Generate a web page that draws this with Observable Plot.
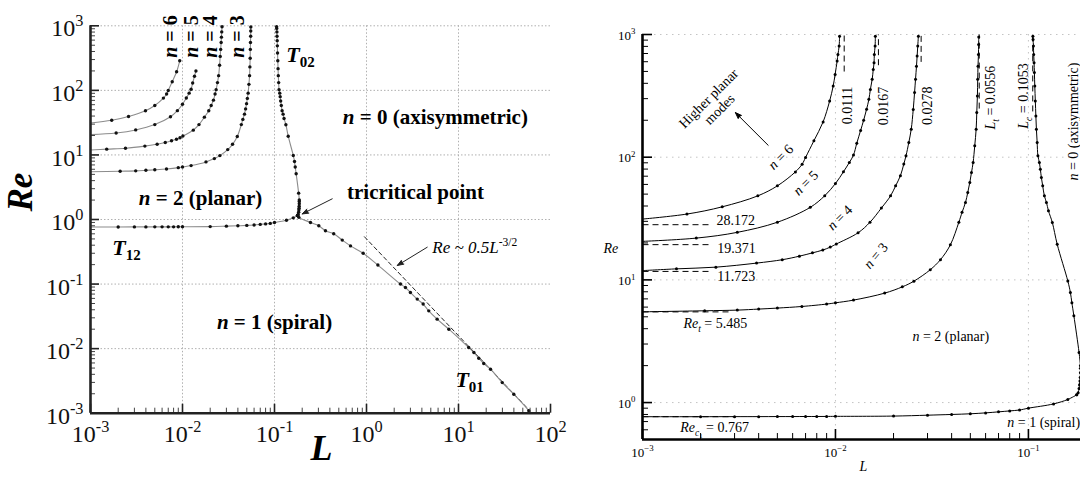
<!DOCTYPE html>
<html><head><meta charset="utf-8">
<script src="https://cdn.jsdelivr.net/npm/d3@7"></script>
<script src="https://cdn.jsdelivr.net/npm/@observablehq/plot@0.6"></script>
<style>
html,body{margin:0;padding:0;background:#fff;overflow:hidden;}
#wrap{position:relative;width:1080px;height:479px;overflow:hidden;background:#fff;}
#wrap svg{position:absolute;left:0;top:0;}
</style></head><body><div id="wrap"></div>
<script>
// ---------------- DATA ----------------
// T12 : n=1 / n=2 boundary
const L_T12  = [0.001,0.002,0.003,0.004,0.005,0.006,0.007,0.008,0.009,0.010,0.020,0.030,0.040,0.050,0.060,0.070,0.080,0.090,0.100,0.135,0.160,0.178];
const Re_T12 = [0.767,0.767,0.768,0.768,0.769,0.769,0.770,0.770,0.771,0.772,0.776,0.789,0.800,0.810,0.824,0.840,0.855,0.870,0.900,0.975,1.060,1.156];
// T02 : n=0 / n=2 boundary (from the tricritical point upward)
const L_T02  = [0.178,0.181,0.183,0.184,0.185,0.1855,0.186,0.186,0.186,0.183,0.172,0.168,0.165,0.160,0.141,0.133,0.127,0.124,0.121,0.1186,0.1167,0.1153,0.114,0.112,0.111,0.110,0.1093,0.1086,0.1079,0.1074,0.107,0.1065,0.1062,0.1057,0.1055];
const Re_T02 = [1.156,1.2,1.3,1.4,1.5,1.6,1.75,1.9,2.0,2.56,5.1,6.5,7.9,9.8,19.5,29.4,36.6,42.8,48.4,58.4,68.4,79.9,90.5,102.5,132,169,217,287,380,489,589,688,804,911,969];
// T01 : n=0 / n=1 boundary (left panel only)
const L_T01  = [0.178,0.184,0.246,0.303,0.358,0.44,0.545,0.67,0.92,1.33,2.34,2.65,3.0,3.56,4.13,4.75,5.86,7.85,12.9,14.7,16.6,18.8,22.3,29.9,39.9,58.1,60.5];
const Re_T01 = [1.156,1.08,0.90,0.80,0.67,0.60,0.48,0.39,0.30,0.197,0.10,0.0886,0.074,0.0585,0.049,0.0385,0.0286,0.020,0.0104,0.0087,0.0071,0.00588,0.0048,0.00298,0.00197,0.00109,0.001];
// higher planar modes
const L_n3  = [0.001,0.0021,0.0031,0.004,0.005,0.0067,0.009,0.010,0.0124,0.018,0.0222,0.0255,0.031,0.035,0.0394,0.0436,0.0453,0.0472,0.0485,0.0497,0.0507,0.0517,0.0527,0.0536,0.0540,0.0544,0.0546,0.0548,0.0551,0.0552,0.0553];
const Re_n3 = [5.49,5.60,5.67,5.78,5.89,6.07,6.35,6.50,6.84,7.80,8.77,9.76,12.1,14.6,19.3,29.5,35.5,42.8,51.6,62.3,75.1,90.5,124,169,231,315,431,552,688,829,956];
const L_n4  = [0.001,0.0015,0.0024,0.0039,0.0053,0.0065,0.0076,0.0086,0.0094,0.0101,0.0131,0.0151,0.0173,0.0193,0.0205,0.0217,0.0226,0.0232,0.0240,0.0247,0.0253,0.0257,0.0260,0.0263,0.0265,0.0267,0.0269];
const Re_n4 = [11.9,12.3,12.7,13.7,14.6,15.6,16.6,17.5,18.5,19.6,24.2,29.5,38.5,48.4,58.4,70.5,87.8,102.5,132,169,245,336,431,552,667,804,969];
const L_n5  = [0.001,0.0019,0.0031,0.005,0.0074,0.0088,0.0100,0.0110,0.0118,0.0124,0.0129,0.0135,0.0140,0.0145,0.0149,0.01517,0.0155,0.0157,0.01585,0.0159,0.01605,0.0161];
const Re_n5 = [20.6,21.9,24.4,29.5,39.0,48.5,61,76,90.5,104,130,165,200,246,296,357,431,519,589,688,804,969];
const L_n6  = [0.001,0.0017,0.00259,0.00396,0.0050,0.0062,0.00672,0.0070,0.00773,0.00863,0.00933,0.00973,0.00996,0.0102,0.0103,0.01045,0.0105];
const Re_n6 = [31.3,34.4,39.4,48.4,58.4,75.9,87.7,99.5,136,194,287,380,473,607,688,804,969];
// asymptote Re ~ 0.5 L^-3/2 (end points)
const L_asym  = [0.95, 60];
const Re_asym = [0.54, 0.00108];
// right panel dashed reference values
const hDashRe  = [28.172, 19.371, 11.723, 5.485, 0.767];
const hDashEnd = [0.0022, 0.00225, 0.0023, 0.00286, 0.003];
const vDashL   = [0.0111, 0.0167, 0.0278, 0.0556, 0.1053];
const vDashLow = [499, 562, 598, 249, 236];
// ticks
const leftXTicks = [1e-3,1e-2,1e-1,1,10,100];
const leftXTickLabels = ["10^{-3}","10^{-2}","10^{-1}","10^{0}","10^{1}","10^{2}"];
const leftYTicks = [1e-3,1e-2,1e-1,1,10,100,1000];
const leftYTickLabels = ["10^{-3}","10^{-2}","10^{-1}","10^{0}","10^{1}","10^{2}","10^{3}"];
const rightXTicks = [1e-3,1e-2,1e-1];
const rightXTickLabels = ["10^{−3}","10^{−2}","10^{−1}"];
const rightYTicks = [1,10,100,1000];
const rightYTickLabels = ["10^{0}","10^{1}","10^{2}","10^{3}"];

// annotations (anchored in data units)
const leftRegionLabels = [
  {t:"*n* = 0 (axisymmetric)", L:5.6, Re:38},
  {t:"*n* = 2 (planar)", L:0.0157, Re:2.1},
  {t:"*n* = 1 (spiral)", L:0.1, Re:0.026},
  {t:"tricritical point", L:3.41, Re:2.62}
];
const leftTLabels = [
  {t:"*T*_{02}", L:0.192, Re:359},
  {t:"*T*_{12}", L:0.00246, Re:0.368},
  {t:"*T*_{01}", L:13.2, Re:0.00333}
];
const leftModeLabels = [
  {t:"*n* = 6", L:0.00741, Re:683},
  {t:"*n* = 5", L:0.0127, Re:683},
  {t:"*n* = 4", L:0.0202, Re:683},
  {t:"*n* = 3", L:0.0393, Re:683}
];
const leftAsymLabel = [{t:"*Re ~ 0.5L*^{-3/2}", L:5.2, Re:0.368}];
const leftArrows = [
  {L1:0.424, Re1:2.09, L2:0.2, Re2:1.22},
  {L1:4.57, Re1:0.372, L2:2.16, Re2:0.194}
];
const rightValueLabels = [
  {t:"28.172", L:0.00242, Re:30.5},
  {t:"19.371", L:0.00244, Re:18.1},
  {t:"11.723", L:0.00244, Re:10.66},
  {t:"*Re*_{*t*} = 5.485", L:0.00163, Re:4.39},
  {t:"*Re*_{*c*_{1}} = 0.767", L:0.00157, Re:0.623}
];
const rightVertLabels = [
  {t:"0.0111", L:0.01156, Re:264},
  {t:"0.0167", L:0.0178, Re:261},
  {t:"0.0278", L:0.0299, Re:263},
  {t:"*L*_{*t*} = 0.0556", L:0.0637, Re:306},
  {t:"*L*_{*c*} = 0.1053", L:0.0948, Re:315},
  {t:"*n* = 0 (axisymmetric)", L:0.1714, Re:195}
];
const rightModeLabels = [
  {t:"*n* = 6", L:0.00519, Re:100.7, rot:-45},
  {t:"*n* = 5", L:0.0070, Re:62, rot:-45},
  {t:"*n* = 4", L:0.0105, Re:32.3, rot:-45},
  {t:"*n* = 3", L:0.01614, Re:15.8, rot:-50},
  {t:"Higher planar\nmodes", L:0.00234, Re:273, rot:-45}
];
const rightRegionLabels = [
  {t:"*n* = 2 (planar)", L:0.0396, Re:3.45},
  {t:"*n* = 1 (spiral)", L:0.12, Re:0.689}
];
const rightArrows = [{L1:0.00448, Re1:125, L2:0.00303, Re2:231}];

// ---------------- helpers ----------------
const series = (name, Ls, Res) => Ls.map((L, i) => ({curve: name, L, Re: Res[i]}));
function minors(lo, hi) {
  const out = [];
  for (let e = Math.floor(Math.log10(lo)); e < Math.ceil(Math.log10(hi)); e++) {
    const d = Math.pow(10, e);
    for (let k = 2; k <= 9; k++) { const v = k * d; if (v >= lo * 0.999 && v <= hi * 1.001) out.push(v); }
  }
  return out;
}
function parseRich(s) {
  const out = [];
  function rec(str, shift, scale) {
    let italic = false, buf = "", i = 0;
    const flush = () => { if (buf) { out.push({t: buf, it: italic, shift, scale}); buf = ""; } };
    while (i < str.length) {
      const c = str[i];
      if (c === "*") { flush(); italic = !italic; i++; continue; }
      if ((c === "^" || c === "_") && str[i + 1] === "{") {
        flush();
        let depth = 0, j = i + 1;
        for (; j < str.length; j++) {
          if (str[j] === "{") depth++;
          else if (str[j] === "}") { depth--; if (depth === 0) break; }
        }
        rec(str.slice(i + 2, j), shift + (c === "_" ? 0.25 : -0.42) * scale, scale * 0.68);
        i = j + 1; continue;
      }
      buf += c; i++;
    }
    flush();
  }
  rec(s, 0, 1);
  return out;
}
function applyRich(svg) {
  const NS = "http://www.w3.org/2000/svg";
  svg.querySelectorAll("text").forEach(t => {
    if (t.querySelector("tspan")) return;
    const s = t.textContent;
    if (!/[*^_]/.test(s)) return;
    const fs = parseFloat(getComputedStyle(t).fontSize) || 13;
    const segs = parseRich(s);
    while (t.firstChild) t.removeChild(t.firstChild);
    let cur = 0;
    segs.forEach(g => {
      const ts = document.createElementNS(NS, "tspan");
      const target = g.shift * fs;
      if (Math.abs(target - cur) > 0.01) ts.setAttribute("dy", (target - cur).toFixed(2));
      cur = target;
      ts.setAttribute("font-size", (g.scale * fs).toFixed(2));
      if (g.it) ts.setAttribute("font-style", "italic");
      ts.textContent = g.t;
      t.appendChild(ts);
    });
  });
}

const W = 1080, H = 479;
const FONT = "'Liberation Serif','Times New Roman',serif";
const svgStyle = {fontFamily: FONT, background: "transparent", maxWidth: "none", color: "#000", overflow: "visible"};

// ---------------- LEFT PANEL ----------------
const LF = {left: 90, right: 550, top: 25.3, bottom: 412.7};
const lpH = LF.bottom - LF.top, lpW = LF.right - LF.left;
const leftCurves = [
  ...series("T12", L_T12, Re_T12),
  ...series("T02", L_T02, Re_T02),
  ...series("T01", L_T01, Re_T01),
  ...series("n3", L_n3, Re_n3),
  ...series("n4", L_n4, Re_n4),
  ...series("n5", L_n5, Re_n5).filter(d => d.Re <= 210),
  ...series("n6", L_n6, Re_n6).filter(d => d.Re <= 290)
];
const asym = series("asym", L_asym, Re_asym);
const gridStyleL = {stroke: "#b0b0b0", strokeWidth: 1, strokeDasharray: "1.5,2"};

const left = Plot.plot({
  width: W, height: H,
  marginLeft: LF.left, marginRight: W - LF.right, marginTop: LF.top, marginBottom: H - LF.bottom,
  x: {type: "log", domain: [1e-3, 1e2], axis: null},
  y: {type: "log", domain: [1e-3, 1e3], axis: null},
  style: svgStyle,
  marks: [
    Plot.ruleX([1e-2, 1e-1, 1, 10], gridStyleL),
    Plot.ruleY([1e-2, 1e-1, 1, 10, 100, 1000], gridStyleL),
    Plot.line(asym, {x: "L", y: "Re", stroke: "#222", strokeWidth: 1, strokeDasharray: "4,3"}),
    Plot.line(leftCurves, {x: "L", y: "Re", z: "curve", stroke: "#8c8c8c", strokeWidth: 1.1, curve: "catmull-rom"}),
    Plot.dot(leftCurves.filter(d => d.L > 0.0011 && d.Re > 0.00105), {x: "L", y: "Re", r: 1.7, fill: "#111"}),
    Plot.tickX(leftXTicks, {x: d => d, insetTop: lpH - 9, stroke: "#222", strokeWidth: 1.6}),
    Plot.tickX(minors(1e-3, 1e2), {x: d => d, insetTop: lpH - 5, stroke: "#444", strokeWidth: 1}),
    Plot.tickY(leftYTicks, {y: d => d, insetRight: lpW - 9, stroke: "#222", strokeWidth: 1.6}),
    Plot.tickY(minors(1e-3, 1e3), {y: d => d, insetRight: lpW - 5, stroke: "#444", strokeWidth: 1}),
    Plot.ruleX([1e-3], {stroke: "#222", strokeWidth: 2.6}),
    Plot.ruleY([1e-3], {stroke: "#222", strokeWidth: 2.6}),
    Plot.text(leftXTicks, {x: d => d, text: (d, i) => leftXTickLabels[i], frameAnchor: "bottom", lineAnchor: "top", dy: 12, fontSize: 24, fill: "#111"}),
    Plot.text(leftYTicks, {y: d => d, text: (d, i) => leftYTickLabels[i], frameAnchor: "left", textAnchor: "end", dx: -7, dy: 3, fontSize: 24, fill: "#111"}),
    Plot.text(["Re"], {frameAnchor: "left", dx: -70, dy: -8, rotate: -90, fontSize: 35, fontWeight: "bold", fontStyle: "italic"}),
    Plot.text(["L"], {frameAnchor: "bottom", dx: 1, dy: 47, fontSize: 36, fontWeight: "bold", fontStyle: "italic"}),
    Plot.text(leftRegionLabels, {x: "L", y: "Re", text: "t", fontSize: 21, fontWeight: "bold"}),
    Plot.text(leftTLabels, {x: "L", y: "Re", text: "t", fontSize: 22, fontWeight: "bold"}),
    Plot.text(leftModeLabels, {x: "L", y: "Re", text: "t", rotate: -90, fontSize: 20, fontWeight: "bold"}),
    Plot.text(leftAsymLabel, {x: "L", y: "Re", text: "t", textAnchor: "start", fontSize: 17}),
    Plot.arrow(leftArrows, {x1: "L1", y1: "Re1", x2: "L2", y2: "Re2", stroke: "#222", fill: "#222", strokeWidth: 1, headLength: 10, headAngle: 40})
  ]
});

// ---------------- RIGHT PANEL ----------------
const RW = 1090;
const RF = {left: 642, right: 1086, top: 34, bottom: 439};
const rpH = RF.bottom - RF.top, rpW = RF.right - RF.left;
const rightCurves = [
  ...series("T12", L_T12, Re_T12),
  ...series("T02", L_T02, Re_T02),
  ...series("n3", L_n3, Re_n3),
  ...series("n4", L_n4, Re_n4),
  ...series("n5", L_n5, Re_n5),
  ...series("n6", L_n6, Re_n6)
];
const hDash = hDashRe.map((Re, i) => ({Re, L2: hDashEnd[i]}));
const vDash = vDashL.map((L, i) => ({L, ReLow: vDashLow[i]}));
const gridStyleR = {stroke: "#c4c4c4", strokeWidth: 1, strokeDasharray: "1.5,4.5"};

const right = Plot.plot({
  width: RW, height: H,
  marginLeft: RF.left, marginRight: RW - RF.right, marginTop: RF.top, marginBottom: H - RF.bottom,
  x: {type: "log", domain: [1e-3, 0.2], axis: null},
  y: {type: "log", domain: [0.5, 1000], axis: null},
  style: svgStyle,
  marks: [
    Plot.ruleX([1e-2, 1e-1], gridStyleR),
    Plot.ruleY([1, 10, 100, 1000], gridStyleR),
    Plot.link(hDash, {x1: d => 1e-3, x2: "L2", y1: "Re", y2: "Re", stroke: "#000", strokeWidth: 1, strokeDasharray: "6,4"}),
    Plot.link(vDash, {x1: "L", x2: "L", y1: "ReLow", y2: d => 1000, stroke: "#000", strokeWidth: 1, strokeDasharray: "6,4"}),
    Plot.line(rightCurves, {x: "L", y: "Re", z: "curve", stroke: "#000", strokeWidth: 1, curve: "catmull-rom"}),
    Plot.dot(rightCurves.filter(d => d.L > 0.0011), {x: "L", y: "Re", r: 1.5, fill: "#000"}),
    Plot.tickX(rightXTicks, {x: d => d, insetTop: rpH - 10, stroke: "#000", strokeWidth: 1.6}),
    Plot.tickX(minors(1e-3, 0.2), {x: d => d, insetTop: rpH - 6, stroke: "#000", strokeWidth: 1}),
    Plot.tickY(rightYTicks, {y: d => d, insetRight: rpW - 10, stroke: "#000", strokeWidth: 1.6}),
    Plot.tickY(minors(0.5, 1000), {y: d => d, insetRight: rpW - 6, stroke: "#000", strokeWidth: 1}),
    Plot.ruleX([1e-3], {stroke: "#000", strokeWidth: 2.6}),
    Plot.ruleY([0.5], {stroke: "#000", strokeWidth: 2.6}),
    Plot.text(rightXTicks, {x: d => d, text: (d, i) => rightXTickLabels[i], frameAnchor: "bottom", lineAnchor: "top", dy: 8, fontSize: 13}),
    Plot.text(rightYTicks, {y: d => d, text: (d, i) => rightYTickLabels[i], frameAnchor: "left", textAnchor: "end", dx: -7, dy: 1, fontSize: 13}),
    Plot.text(["Re"], {frameAnchor: "left", dx: -39, dy: 11.5, fontSize: 14, fontStyle: "italic"}),
    Plot.text(["L"], {frameAnchor: "bottom", dx: -1, dy: 31, fontSize: 14, fontStyle: "italic"}),
    Plot.text(rightValueLabels, {x: "L", y: "Re", text: "t", textAnchor: "start", fontSize: 14}),
    Plot.text(rightVertLabels, {x: "L", y: "Re", text: "t", rotate: -90, fontSize: 14}),
    Plot.text(rightModeLabels, {x: "L", y: "Re", text: "t", rotate: "rot", fontSize: 14, lineHeight: 1.1}),
    Plot.text(rightRegionLabels, {x: "L", y: "Re", text: "t", fontSize: 14}),
    Plot.arrow(rightArrows, {x1: "L1", y1: "Re1", x2: "L2", y2: "Re2", stroke: "#000", fill: "#000", strokeWidth: 1, headLength: 10, headAngle: 40})
  ]
});

const wrap = document.getElementById("wrap");
wrap.appendChild(left);
wrap.appendChild(right);
applyRich(left);
applyRich(right);
</script></body></html>
